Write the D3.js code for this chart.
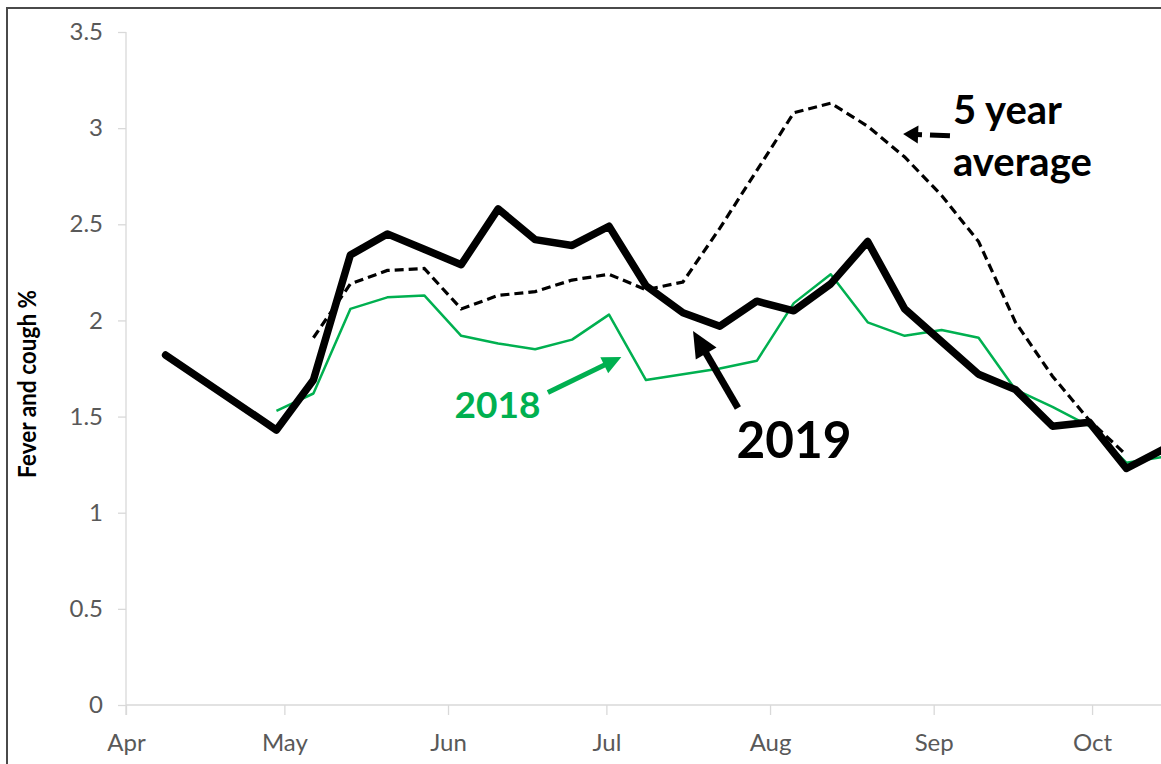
<!DOCTYPE html>
<html>
<head>
<meta charset="utf-8">
<script src="https://cdn.jsdelivr.net/npm/d3@7"></script>
<style>
  html, body { margin: 0; padding: 0; background: #ffffff; overflow: hidden; }
  svg { display: block; }
</style>
</head>
<body>
<svg id="chart" width="1161" height="764"></svg>
<script>
// ---------------- data ----------------
const weeks = ["2019-04-08","2019-04-15","2019-04-22","2019-04-29",
  "2019-05-06","2019-05-13","2019-05-20","2019-05-27",
  "2019-06-03","2019-06-10","2019-06-17","2019-06-24",
  "2019-07-01","2019-07-08","2019-07-15","2019-07-22","2019-07-29",
  "2019-08-05","2019-08-12","2019-08-19","2019-08-26",
  "2019-09-02","2019-09-09","2019-09-16","2019-09-23","2019-09-30",
  "2019-10-07","2019-10-14"];

const series2019 = [1.82, null, null, 1.43,
  1.69, 2.34, 2.45, 2.37,
  2.29, 2.58, 2.42, 2.39,
  2.49, 2.18, 2.04, 1.97, 2.10,
  2.05, 2.19, 2.41, 2.06,
  1.89, 1.72, 1.64, 1.45, 1.47,
  1.23, 1.33];

const series2018 = [null, null, null, 1.53,
  1.62, 2.06, 2.12, 2.13,
  1.92, 1.88, 1.85, 1.90,
  2.03, 1.69, 1.72, 1.75, 1.79,
  2.09, 2.24, 1.99, 1.92,
  1.95, 1.91, 1.64, 1.55, 1.45,
  1.26, 1.29];

const series5yr = [null, null, null, null,
  1.91, 2.19, 2.26, 2.27,
  2.06, 2.13, 2.15, 2.21,
  2.24, 2.16, 2.20, 2.48, 2.78,
  3.08, 3.13, 3.01, 2.85,
  2.65, 2.41, 1.99, 1.71, 1.48,
  1.30, null];

const monthTicks = ["2019-04-01","2019-05-01","2019-06-01","2019-07-01","2019-08-01","2019-09-01","2019-10-01"];
const monthLabels = ["Apr","May","Jun","Jul","Aug","Sep","Oct"];
const yTicks = [0, 0.5, 1, 1.5, 2, 2.5, 3, 3.5];
const yTickLabels = ["0","0.5","1","1.5","2","2.5","3","3.5"];
const yTitle = "Fever and cough %";

// annotations in data units (date, value)
const labels = [
  {text: "5 year",  date: "2019-09-04T16:00", value: 3.02, color: "#000000", size: 40},
  {text: "average", date: "2019-09-04T16:00", value: 2.75, color: "#000000", size: 40},
  {text: "2019",    date: "2019-07-25T16:00", value: 1.285, color: "#000000", size: 52, len: 115},
  {text: "2018",    date: "2019-06-02T06:00", value: 1.49, color: "#00b050", size: 36, len: 86}
];
const arrows = [
  {from: ["2019-09-04T02:00", 2.96], to: ["2019-08-26T05:00", 2.97], color: "#000000", width: 5, head: 15, half: 9, dash: "20,8"},
  {from: ["2019-07-25T22:00", 1.545], to: ["2019-07-17T10:00", 1.945], color: "#000000", width: 7, head: 26, half: 12},
  {from: ["2019-06-19T22:00", 1.625], to: ["2019-07-03T20:00", 1.81], color: "#00b050", width: 5, head: 19, half: 9}
];

// ---------------- chart ----------------
const svg = d3.select("#chart");
const parse = d3.isoParse;
const HALF_DAY = 12 * 3600 * 1000;
const at = s => new Date(parse(s).getTime() + HALF_DAY);

const x = d3.scaleTime()
  .domain([parse("2019-04-01"), parse("2019-11-01")])
  .range([126, 126 + 214 * 5.279]);
const y = d3.scaleLinear().domain([0, 3.5]).range([705, 32]);

// outer frame
svg.append("rect")
  .attr("x", 7).attr("y", 8).attr("width", 1400).attr("height", 1000)
  .attr("fill", "none").attr("stroke", "#4a4a4a").attr("stroke-width", 2);

const axisColor = "#d9d9d9";
const labelColor = "#595959";
const font = "Lato, 'Open Sans', 'DejaVu Sans', sans-serif";

// y axis
const yAxis = svg.append("g").attr("transform", "translate(126,0)")
  .call(d3.axisLeft(y).tickValues(yTicks).tickSize(8).tickPadding(15)
    .tickFormat((d, i) => yTickLabels[i]));
yAxis.select(".domain").remove();
yAxis.append("line").attr("x1", 0).attr("x2", 0).attr("y1", y(3.5)).attr("y2", y(0) + 10)
  .attr("stroke", axisColor).attr("stroke-width", 1.3);
yAxis.selectAll(".tick line").attr("stroke", axisColor).attr("stroke-width", 1.3);
yAxis.selectAll(".tick text").attr("fill", labelColor)
  .style("font-family", font).style("font-size", "24px");

// x axis
const xAxis = svg.append("g").attr("transform", `translate(0,${y(0)})`)
  .call(d3.axisBottom(x).tickValues(monthTicks.map(parse)).tickSize(10).tickPadding(19)
    .tickFormat((d, i) => monthLabels[i]));
xAxis.select(".domain").remove();
xAxis.append("line").attr("x1", x.range()[0]).attr("x2", x.range()[1]).attr("y1", 0).attr("y2", 0)
  .attr("stroke", axisColor).attr("stroke-width", 1.3);
xAxis.selectAll(".tick line").attr("stroke", axisColor).attr("stroke-width", 1.3);
xAxis.selectAll(".tick text").attr("fill", labelColor)
  .style("font-family", font).style("font-size", "24px");

// y title
svg.append("text")
  .attr("transform", `translate(36,${y(1.67)}) rotate(-90)`)
  .attr("text-anchor", "middle")
  .attr("fill", "#000")
  .style("font-family", font).style("font-weight", "700").style("font-size", "25px")
  .attr("textLength", 188).attr("lengthAdjust", "spacingAndGlyphs")
  .text(yTitle);

// lines
function pts(vals) {
  return weeks.map((w, i) => ({d: at(w), v: vals[i]})).filter(p => p.v != null);
}
const line = d3.line().x(p => x(p.d)).y(p => y(p.v));

svg.append("path").datum(pts(series5yr))
  .attr("d", line).attr("fill", "none").attr("stroke", "#000")
  .attr("stroke-width", 3.2).attr("stroke-dasharray", "9,5");

svg.append("path").datum(pts(series2018))
  .attr("d", line).attr("fill", "none").attr("stroke", "#00b050")
  .attr("stroke-width", 2.5).attr("stroke-linejoin", "round");

svg.append("path").datum(pts(series2019))
  .attr("d", line).attr("fill", "none").attr("stroke", "#000")
  .attr("stroke-width", 7.5).attr("stroke-linejoin", "round").attr("stroke-linecap", "round");

// arrows
arrows.forEach(a => {
  const x1 = x(parse(a.from[0])), y1 = y(a.from[1]);
  const x2 = x(parse(a.to[0])), y2 = y(a.to[1]);
  const dx = x2 - x1, dy = y2 - y1, L = Math.hypot(dx, dy);
  const ux = dx / L, uy = dy / L;
  const bx = x2 - ux * a.head, by = y2 - uy * a.head;
  const sh = svg.append("line")
    .attr("x1", x1).attr("y1", y1).attr("x2", bx + ux * 2).attr("y2", by + uy * 2)
    .attr("stroke", a.color).attr("stroke-width", a.width);
  if (a.dash) sh.attr("stroke-dasharray", a.dash);
  svg.append("path")
    .attr("d", d3.line()([[x2, y2], [bx - uy * a.half, by + ux * a.half], [bx + uy * a.half, by - ux * a.half]]) + "Z")
    .attr("fill", a.color);
});

// labels
labels.forEach(l => {
  const t = svg.append("text")
    .attr("x", x(parse(l.date))).attr("y", y(l.value))
    .attr("fill", l.color)
    .style("font-family", font).style("font-weight", "700").style("font-size", l.size + "px")
    .text(l.text);
  if (l.len) t.attr("textLength", l.len).attr("lengthAdjust", "spacingAndGlyphs");
});
</script>
</body>
</html>
